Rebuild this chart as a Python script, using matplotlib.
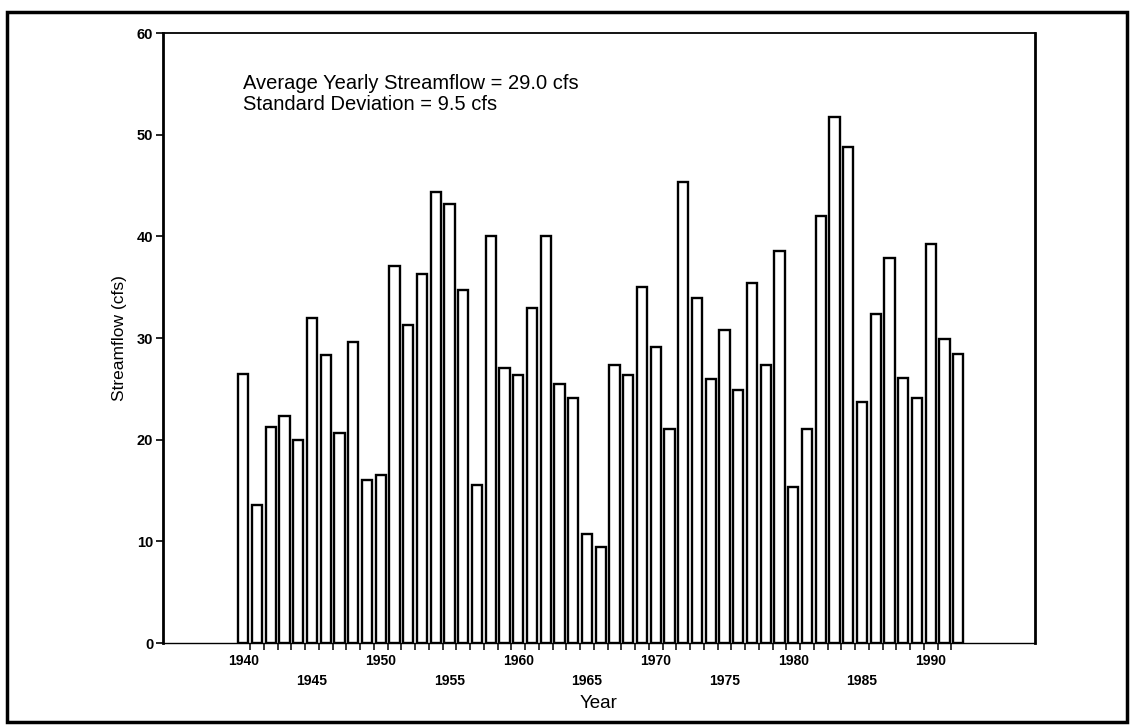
import matplotlib.pyplot as plt
import matplotlib.patches as patches
import numpy as np

plt.rcParams['font.family'] = 'Liberation Sans'

# yearly mean streamflow, cfs
years = np.arange(1940, 1993)
flow = [26.5, 13.6, 21.2, 22.3, 20.0, 32.0, 28.3, 20.7, 29.6, 16.0,
        16.5, 37.1, 31.3, 36.3, 44.4, 43.2, 34.7, 15.5, 40.0, 27.1,
        26.4, 33.0, 40.0, 25.5, 24.1, 10.7, 9.4, 27.3, 26.4, 35.0,
        29.1, 21.1, 45.3, 33.9, 26.0, 30.8, 24.9, 35.4, 27.3, 38.6,
        15.3, 21.1, 42.0, 51.7, 48.8, 23.7, 32.4, 37.9, 26.1, 24.1,
        39.2, 29.9, 28.4]

label_years = np.arange(1940, 1991, 5)
stats_lines = ['Average Yearly Streamflow = 29.0 cfs',
               'Standard Deviation = 9.5 cfs']

fig = plt.figure(figsize=(11.33, 7.27), dpi=100, facecolor='white')
ax = fig.add_axes([0.1439, 0.1155, 0.7696, 0.8391])

ax.bar(years, flow, width=0.75, color='white', edgecolor='black', linewidth=1.7)

ax.set_xlim(1934.16, 1997.58)
ax.set_ylim(0, 60)

# y axis
ax.set_yticks(np.arange(0, 61, 10))
ax.tick_params(axis='y', length=5, width=1.2, pad=2, labelsize=10.5)
plt.setp(ax.get_yticklabels(), fontweight='bold')
ax.set_ylabel('Streamflow (cfs)', fontsize=12.5, labelpad=7)

# x axis: labels every 5 years in two rows, tick marks between bars
ax.set_xticks(label_years)
ax.set_xticklabels([str(y) if y % 10 == 0 else '\n' + str(y) for y in label_years],
                   fontsize=10, fontweight='bold', linespacing=1.5)
ax.set_xticks(years[:-1] + 0.5, minor=True)
ax.tick_params(axis='x', which='major', length=0, pad=8)
ax.tick_params(axis='x', which='minor', length=5, width=1.1, direction='out')
ax.set_xlabel('Year', fontsize=13.5, labelpad=5)

ax.spines['left'].set_linewidth(2.0)
ax.spines['right'].set_linewidth(2.0)
ax.spines['top'].set_linewidth(1.3)
ax.spines['bottom'].set_linewidth(1.0)

ax.text(0.0917, 0.918, stats_lines[0], transform=ax.transAxes,
        fontsize=14.5, va='center', ha='left')
ax.text(0.0917, 0.883, stats_lines[1], transform=ax.transAxes,
        fontsize=14.5, va='center', ha='left')

# outer border
fig.add_artist(patches.Rectangle((7 / 1133, 1 - 722 / 727), 1120 / 1133, 710 / 727,
                                 transform=fig.transFigure, fill=False,
                                 edgecolor='black', linewidth=2.5))

fig.savefig('out.png', dpi=100)
